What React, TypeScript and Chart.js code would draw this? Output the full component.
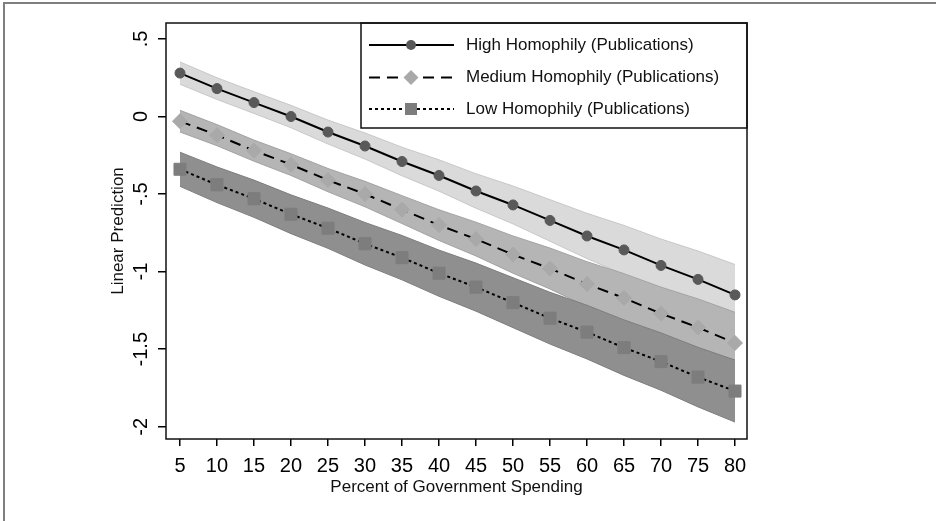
import React, { useEffect, useRef } from 'react';
import { Chart, registerables } from 'chart.js';

Chart.register(...registerables);

const FONT = "'Liberation Sans', Arial, Helvetica, sans-serif";
const W = 936;
const H = 521;

const xValues = [5, 10, 15, 20, 25, 30, 35, 40, 45, 50, 55, 60, 65, 70, 75, 80];
const xTickLabels = ['5', '10', '15', '20', '25', '30', '35', '40', '45', '50', '55', '60', '65', '70', '75', '80'];
const yTickValues = [-2, -1.5, -1, -0.5, 0, 0.5];
const yTickLabels = ['-2', '-1.5', '-1', '-.5', '0', '.5'];

const seriesNames = [
  'High Homophily (Publications)',
  'Medium Homophily (Publications)',
  'Low Homophily (Publications)',
];

const highPred = [0.28, 0.18, 0.09, 0.0, -0.1, -0.19, -0.29, -0.38, -0.48, -0.57, -0.67, -0.77, -0.86, -0.96, -1.05, -1.15];
const highUpper = [0.352, 0.25, 0.16, 0.072, -0.023, -0.106, -0.198, -0.279, -0.369, -0.448, -0.536, -0.624, -0.702, -0.79, -0.867, -0.954];
const highLower = [0.208, 0.11, 0.02, -0.072, -0.177, -0.274, -0.382, -0.481, -0.591, -0.692, -0.804, -0.916, -1.018, -1.13, -1.233, -1.346];

const medPred = [-0.03, -0.12, -0.22, -0.31, -0.41, -0.5, -0.6, -0.7, -0.79, -0.89, -0.98, -1.08, -1.17, -1.27, -1.36, -1.46];
const medUpper = [0.04, -0.052, -0.152, -0.24, -0.335, -0.418, -0.51, -0.601, -0.681, -0.77, -0.848, -0.936, -1.013, -1.1, -1.176, -1.262];
const medLower = [-0.1, -0.188, -0.288, -0.38, -0.485, -0.582, -0.69, -0.799, -0.899, -1.01, -1.112, -1.224, -1.327, -1.44, -1.544, -1.658];

const lowPred = [-0.34, -0.44, -0.53, -0.63, -0.72, -0.82, -0.91, -1.01, -1.1, -1.2, -1.3, -1.39, -1.49, -1.58, -1.68, -1.77];
const lowUpper = [-0.23, -0.325, -0.41, -0.505, -0.59, -0.683, -0.767, -0.861, -0.945, -1.039, -1.133, -1.217, -1.311, -1.395, -1.488, -1.57];
const lowLower = [-0.45, -0.555, -0.65, -0.755, -0.85, -0.957, -1.053, -1.159, -1.255, -1.361, -1.467, -1.563, -1.669, -1.765, -1.872, -1.97];

const markerColors = ['#595959', '#a9a9a9', '#7d7d7d'];
const dashes = [[], [11, 7], [3, 3]];

function drawMarker(ctx: CanvasRenderingContext2D, kind: number, x: number, y: number) {
  ctx.fillStyle = markerColors[kind];
  ctx.beginPath();
  if (kind === 0) {
    ctx.arc(x, y, 5, 0, Math.PI * 2);
  } else if (kind === 1) {
    ctx.moveTo(x, y - 7.5);
    ctx.lineTo(x + 7.5, y);
    ctx.lineTo(x, y + 7.5);
    ctx.lineTo(x - 7.5, y);
    ctx.closePath();
  } else {
    ctx.rect(x - 6, y - 6, 12, 12);
  }
  ctx.fill();
}

export default function App() {
  const ref = useRef<HTMLCanvasElement>(null);

  useEffect(() => {
    const canvas = ref.current;
    if (!canvas) return;
    const pts = (arr: number[]) => xValues.map((x, i) => ({ x, y: arr[i] }));
    const band = (upper: number[], lower: number[], fill: string, edge: string, order: number) => [
      {
        label: '',
        data: pts(upper),
        borderColor: edge,
        borderWidth: 1,
        backgroundColor: fill,
        fill: '+1',
        pointRadius: 0,
        tension: 0,
        order,
      },
      {
        label: '',
        data: pts(lower),
        borderColor: edge,
        borderWidth: 1,
        backgroundColor: fill,
        fill: false,
        pointRadius: 0,
        tension: 0,
        order: order - 0.5,
      },
    ];
    const lineDs = (i: number, data: number[], style: string, radius: number, order: number) => ({
      label: seriesNames[i],
      data: pts(data),
      borderColor: '#000',
      borderWidth: 2,
      borderDash: dashes[i],
      fill: false,
      tension: 0,
      pointStyle: style,
      pointRadius: radius,
      pointBackgroundColor: markerColors[i],
      pointBorderColor: markerColors[i],
      pointBorderWidth: 1,
      order,
    });

    const decor = {
      id: 'decor',
      beforeDraw(chart: any) {
        const ctx = chart.ctx as CanvasRenderingContext2D;
        ctx.save();
        ctx.fillStyle = '#fff';
        ctx.fillRect(0, 0, W, H);
        ctx.strokeStyle = '#7f7f7f';
        ctx.lineWidth = 2;
        ctx.beginPath();
        ctx.moveTo(4, H);
        ctx.lineTo(4, 3);
        ctx.lineTo(W, 3);
        ctx.stroke();
        ctx.restore();
      },
      afterDraw(chart: any) {
        const ctx = chart.ctx as CanvasRenderingContext2D;
        const a = chart.chartArea;
        const ys = chart.scales.y;
        ctx.save();
        // y tick labels (rotated)
        ctx.font = `20px ${FONT}`;
        ctx.fillStyle = '#000';
        ctx.textAlign = 'center';
        ctx.textBaseline = 'alphabetic';
        yTickValues.forEach((v, i) => {
          const py = ys.getPixelForValue(v);
          ctx.save();
          ctx.translate(a.left - 19, py);
          ctx.rotate(-Math.PI / 2);
          ctx.fillText(yTickLabels[i], 0, 0);
          ctx.restore();
        });
        // legend
        const bl = a.right - 386;
        const bt = a.top;
        const bw = 386;
        const bh = 105;
        ctx.fillStyle = '#fff';
        ctx.fillRect(bl, bt, bw, bh);
        ctx.strokeStyle = '#111';
        ctx.lineWidth = 1.5;
        ctx.strokeRect(bl, bt, bw, bh);
        const rows = [22, 54.5, 86];
        rows.forEach((ry, i) => {
          const y = bt + ry;
          ctx.strokeStyle = '#000';
          ctx.lineWidth = 2;
          ctx.setLineDash(dashes[i]);
          ctx.beginPath();
          ctx.moveTo(bl + 8, y);
          ctx.lineTo(bl + 93, y);
          ctx.stroke();
          ctx.setLineDash([]);
          drawMarker(ctx, i, bl + 50, y);
          ctx.fillStyle = '#111';
          ctx.font = `17px ${FONT}`;
          ctx.textAlign = 'left';
          ctx.textBaseline = 'middle';
          ctx.fillText(seriesNames[i], bl + 105, y);
        });
        // plot frame
        ctx.strokeStyle = '#111';
        ctx.lineWidth = 1.5;
        ctx.strokeRect(a.left, a.top, a.right - a.left, a.bottom - a.top);
        ctx.restore();
      },
    };

    const chart = new Chart(canvas, {
      type: 'line',
      data: {
        datasets: [
          ...band(highUpper, highLower, '#dadada', '#c8c8c8', 11),
          ...band(medUpper, medLower, '#b5b5b5', '#a3a3a3', 9),
          ...band(lowUpper, lowLower, '#8f8f8f', '#7e7e7e', 7),
          lineDs(0, highPred, 'circle', 5, 3),
          lineDs(1, medPred, 'rectRot', 7.5, 2),
          lineDs(2, lowPred, 'rect', 8.5, 1),
        ] as any,
      },
      options: {
        responsive: false,
        devicePixelRatio: 1,
        animation: false,
        events: [],
        layout: { padding: { top: 23, right: 189, bottom: 0, left: 0 } },
        plugins: {
          legend: { display: false },
          tooltip: { enabled: false },
        },
        scales: {
          x: {
            type: 'linear',
            min: 3.11,
            max: 81.62,
            afterBuildTicks: (axis: any) => {
              axis.ticks = xValues.map((v) => ({ value: v }));
            },
            afterFit: (s: any) => {
              s.height = 82;
            },
            ticks: {
              autoSkip: false,
              maxRotation: 0,
              minRotation: 0,
              padding: 8,
              color: '#000',
              font: { family: FONT, size: 20 },
              callback: (v: any) => {
                const i = xValues.indexOf(Number(v));
                return i >= 0 ? xTickLabels[i] : '';
              },
            },
            grid: {
              display: true,
              drawOnChartArea: false,
              drawTicks: true,
              tickLength: 7,
              color: '#000',
              lineWidth: 1.5,
            },
            border: { display: false },
            title: {
              display: true,
              text: 'Percent of Government Spending',
              color: '#111',
              font: { family: FONT, size: 17 },
              padding: { top: 0, bottom: 23 },
            },
          },
          y: {
            type: 'linear',
            min: -2.079,
            max: 0.603,
            afterBuildTicks: (axis: any) => {
              axis.ticks = yTickValues.map((v) => ({ value: v }));
            },
            afterFit: (s: any) => {
              s.width = 166;
            },
            ticks: { display: false },
            grid: {
              display: true,
              drawOnChartArea: false,
              drawTicks: true,
              tickLength: 8,
              color: '#000',
              lineWidth: 1.5,
            },
            border: { display: false },
            title: {
              display: true,
              text: 'Linear Prediction',
              color: '#111',
              font: { family: FONT, size: 17 },
              padding: { top: 108, bottom: 0 },
            },
          },
        },
      },
      plugins: [decor],
    });

    return () => chart.destroy();
  }, []);

  return (
    <div style={{ position: 'fixed', left: 0, top: 0, width: W, height: H, background: '#fff' }}>
      <canvas ref={ref} width={W} height={H} style={{ display: 'block', width: W, height: H }} />
    </div>
  );
}
